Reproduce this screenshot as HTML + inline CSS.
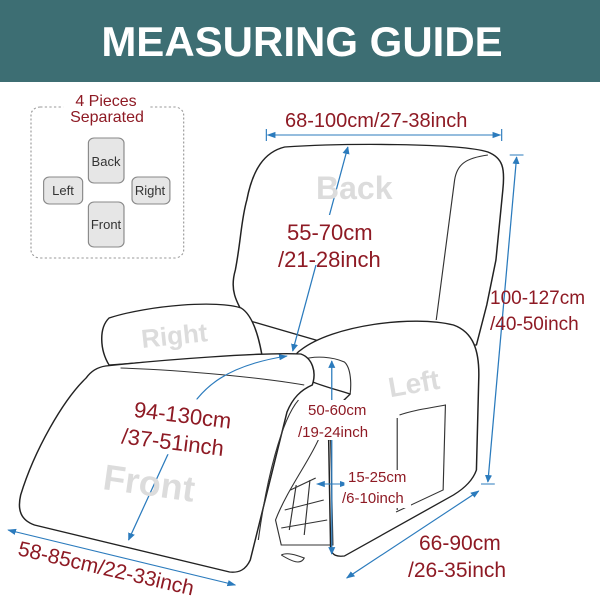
<!DOCTYPE html>
<html><head><meta charset="utf-8"><style>
html,body{margin:0;padding:0;background:#fff;}
svg{display:block;}
.t{font-family:"Liberation Sans",sans-serif;fill:#8e1a24;}
.g{font-family:"Liberation Sans",sans-serif;font-weight:bold;fill:#dcdcdc;}
.o{fill:#fff;stroke:#222;stroke-width:1.3;stroke-linejoin:round;}
.l{fill:none;stroke:#333;stroke-width:1;}
.a{stroke:#2b7bbd;stroke-width:1.1;fill:none;}
</style></head><body>
<svg width="600" height="600" viewBox="0 0 600 600" xmlns="http://www.w3.org/2000/svg">
<defs>
<marker id="m" viewBox="0 0 10 10" refX="9" refY="5" markerWidth="7" markerHeight="7" orient="auto-start-reverse"><path d="M0,1 L10,5 L0,9 z" fill="#2b7bbd"/></marker>
</defs>
<rect x="0" y="0" width="600" height="82" fill="#3d6e73"/>
<text x="302" y="56" text-anchor="middle" font-family="Liberation Sans,sans-serif" font-weight="bold" font-size="42" fill="#fff">MEASURING GUIDE</text>

<g transform="scale(1.148,1)">
<!-- pieces box -->
<rect x="27" y="107" width="133" height="151" rx="8" fill="none" stroke="#999" stroke-dasharray="2,2"/>
<rect x="55" y="96" width="75" height="30" fill="#fff"/>
<g fill="#e6e6e6" stroke="#888">
<rect x="77" y="138" width="31" height="45" rx="5"/>
<rect x="38" y="177" width="34" height="27" rx="5"/>
<rect x="115" y="177" width="33" height="27" rx="5"/>
<rect x="77" y="202" width="31" height="45" rx="5"/>
</g>

<!-- chair back -->
<path class="o" d="M248,147 C300,143 400,143 425,152 C438,158 440,168 438,190 L432,260 L424,305 L415,345 L290,345 L215,320 C205,300 200,290 205,270 C210,240 210,220 215,200 C220,170 230,152 248,147 Z"/>
<path class="l" d="M425,155 C405,158 398,165 396,180 L380,320"/>
<path class="o" d="M95,318 C130,305 190,300 210,308 C220,315 225,335 228,354 L95,365 C87,350 86,328 95,318 Z"/>
<path class="o" d="M262,350 C290,325 360,315 395,325 C412,332 418,350 417,380 L415,470 C412,480 405,488 395,495 L300,556 C293,557 290,555 288,550 L286,420 C290,410 300,400 305,394 C280,385 258,380 256,365 C255,358 258,353 262,350 Z"/>
<path class="l" d="M262,360 C275,355 290,357 300,362 C306,368 306,385 305,394"/>
<path class="l" d="M348,415 C360,410 375,408 388,405 L386,490 L345,512"/>
<path class="l" d="M346,418 L346,510"/>
<path class="l" d="M278,438 C270,460 250,490 240,520 L245,545 L290,545 L288,440 Z"/>
<path class="l" d="M253,490 L275,478 M248,510 L282,500 M245,528 L285,520 M258,485 L252,530 M270,480 L265,535"/>
<path class="l" d="M245,555 C255,562 262,565 265,558 C258,555 250,552 245,555"/>
<path class="o" d="M92,366 C140,360 230,352 262,354 C272,358 276,372 272,385 C262,390 255,398 250,412 L218,560 C214,570 208,573 200,572 L30,525 C18,520 15,510 18,495 C30,450 55,400 75,378 C80,370 86,367 92,366 Z"/>
<path class="l" d="M105,368 C160,370 230,378 265,385"/>
<path class="l" d="M260,400 C245,420 232,480 225,540"/>

<!-- arrows -->
<line class="a" x1="233" y1="135" x2="436" y2="135" marker-start="url(#m)" marker-end="url(#m)"/>
<line x1="232" y1="129" x2="232" y2="141" stroke="#2b7bbd"/><line x1="437" y1="129" x2="437" y2="141" stroke="#2b7bbd"/>
<line class="a" x1="303" y1="147" x2="255" y2="351" marker-start="url(#m)" marker-end="url(#m)"/>
<line class="a" x1="450" y1="157" x2="425" y2="482" marker-start="url(#m)" marker-end="url(#m)"/>
<line x1="444" y1="155" x2="456" y2="155" stroke="#2b7bbd"/><line x1="419" y1="484" x2="431" y2="484" stroke="#2b7bbd"/>
<path class="a" d="M112,540 L160,420 C175,385 200,365 250,356" marker-start="url(#m)" marker-end="url(#m)"/>
<line class="a" x1="289" y1="361" x2="289" y2="554" marker-start="url(#m)" marker-end="url(#m)"/>
<line class="a" x1="276" y1="484" x2="303" y2="484" marker-start="url(#m)" marker-end="url(#m)"/>
<line class="a" x1="302" y1="578" x2="417" y2="491" marker-start="url(#m)" marker-end="url(#m)"/>
<line class="a" x1="7" y1="530" x2="205" y2="585" marker-start="url(#m)" marker-end="url(#m)"/>

<!-- label backgrounds -->
<rect x="245" y="215" width="85" height="50" fill="#fff"/>
<rect x="262" y="400" width="68" height="40" fill="#fff"/>
<rect x="300" y="470" width="58" height="38" fill="#fff"/>
</g>
<g transform="rotate(7 184 430)"><rect x="128" y="398" width="110" height="58" fill="#fff"/></g>

<!-- piece labels -->
<text class="t" x="106" y="106" text-anchor="middle" font-size="16">4 Pieces</text>
<text class="t" x="107" y="122" text-anchor="middle" font-size="16">Separated</text>
<g font-family="Liberation Sans,sans-serif" font-size="13" fill="#333" text-anchor="middle">
<text x="106" y="166">Back</text><text x="63" y="195">Left</text><text x="150" y="195">Right</text><text x="106" y="229">Front</text>
</g>

<!-- ghost labels -->
<text class="g" x="316" y="199" font-size="32">Back</text>
<text class="g" x="141" y="345" font-size="26" transform="rotate(-6 170 335)">Right</text>
<text class="g" x="388" y="392" font-size="28" transform="rotate(-10 420 382)">Left</text>
<text class="g" x="103" y="497" font-size="36" transform="rotate(8 160 485)">Front</text>

<!-- labels -->
<text class="t" x="285" y="127" font-size="20">68-100cm/27-38inch</text>
<text class="t" x="287" y="240" font-size="22">55-70cm</text>
<text class="t" x="278" y="267" font-size="22">/21-28inch</text>
<text class="t" x="490" y="304" font-size="19">100-127cm</text>
<text class="t" x="490" y="330" font-size="19">/40-50inch</text>
<g transform="rotate(7 184 430)">
<text class="t" x="132" y="423" font-size="22">94-130cm</text>
<text class="t" x="123" y="451" font-size="22">/37-51inch</text>
</g>
<text class="t" x="308" y="415" font-size="15">50-60cm</text>
<text class="t" x="298" y="437" font-size="15">/19-24inch</text>
<text class="t" x="348" y="482" font-size="15">15-25cm</text>
<text class="t" x="342" y="503" font-size="15">/6-10inch</text>
<text class="t" x="419" y="550" font-size="21">66-90cm</text>
<text class="t" x="408" y="577" font-size="21">/26-35inch</text>
<text class="t" x="17" y="555" font-size="21" transform="rotate(13 17 555)">58-85cm/22-33inch</text>
</svg>
</body></html>
